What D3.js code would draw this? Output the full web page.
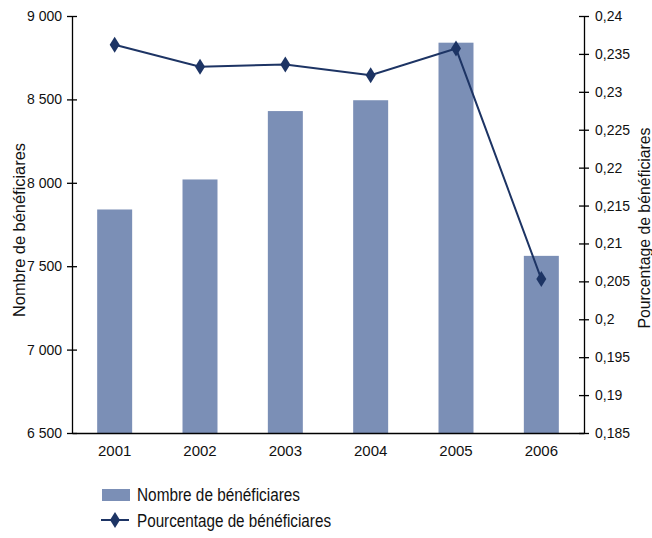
<!DOCTYPE html>
<html>
<head>
<meta charset="utf-8">
<script src="https://cdn.jsdelivr.net/npm/d3@7"></script>
<style>
  html, body { margin: 0; padding: 0; background: #fff; }
  svg { display: block; }
  text { font-family: "Liberation Sans", Arial, sans-serif; fill: #111; }
</style>
</head>
<body>
<svg id="chart" width="652" height="538"></svg>
<script>
// Beneficiaries per year (bars, left axis) and share of beneficiaries (line, right axis)
const years = ["2001", "2002", "2003", "2004", "2005", "2006"];
const beneficiaries = [7840, 8020, 8430, 8495, 8840, 7562];
const percentage = [0.2362, 0.2333, 0.2336, 0.2322, 0.2357, 0.2053];
const leftTicks = [6500, 7000, 7500, 8000, 8500, 9000];
const rightTicks = [0.185, 0.19, 0.195, 0.2, 0.205, 0.21, 0.215, 0.22, 0.225, 0.23, 0.235, 0.24];

const barColor = "#7b8fb6";
const lineColor = "#1d3464";

const svg = d3.select("#chart");
const plot = { left: 72, right: 584, top: 16, bottom: 433 };

const x = d3.scaleBand().domain(years).range([plot.left, plot.right]).paddingInner(0.59).paddingOuter(0.295);
const yL = d3.scaleLinear().domain([6500, 9000]).range([plot.bottom, plot.top]);
const yR = d3.scaleLinear().domain([0.185, 0.24]).range([plot.bottom, plot.top]);

const fmtLeft = v => d3.format(",")(v).replace(",", "\u00a0");
const fmtRight = v => String(+v.toFixed(3)).replace(".", ",");

// bars
svg.append("g").selectAll("rect").data(years).join("rect")
  .attr("x", d => x(d))
  .attr("width", x.bandwidth())
  .attr("y", (d, i) => yL(beneficiaries[i]))
  .attr("height", (d, i) => plot.bottom - yL(beneficiaries[i]))
  .attr("fill", barColor);

// left axis
const gL = svg.append("g").attr("transform", `translate(${plot.left},0)`)
  .call(d3.axisLeft(yL).tickValues(leftTicks).tickFormat(fmtLeft).tickSizeInner(5).tickSizeOuter(0).tickPadding(5));
gL.selectAll(".tick line").attr("x2", 5).attr("x1", -5);

// right axis
const gR = svg.append("g").attr("transform", `translate(${plot.right},0)`)
  .call(d3.axisRight(yR).tickValues(rightTicks).tickFormat(fmtRight).tickSizeInner(5).tickSizeOuter(0).tickPadding(6));
gR.selectAll(".tick line").attr("x1", -5).attr("x2", 5);

// bottom axis
const gB = svg.append("g").attr("transform", `translate(0,${plot.bottom})`)
  .call(d3.axisBottom(x).tickSize(0).tickPadding(12));

[gL, gR, gB].forEach(g => {
  g.selectAll("path.domain").attr("stroke", "#000").attr("stroke-width", 1.3);
  g.selectAll(".tick line").attr("stroke", "#000").attr("stroke-width", 1.3);
  g.selectAll("text").style("font-family", '"Liberation Sans", Arial, sans-serif')
    .style("font-size", "14px").attr("fill", "#111");
});
gB.selectAll("text").style("font-size", "15px");

// percentage line
const cx = d => x(d) + x.bandwidth() / 2;
const line = d3.line().x((d, i) => cx(years[i])).y(d => yR(d));
svg.append("path").datum(percentage)
  .attr("d", line).attr("fill", "none").attr("stroke", lineColor).attr("stroke-width", 2);

const diamond = "M0,-8L5,0L0,8L-5,0Z";
svg.append("g").selectAll("path").data(percentage).join("path")
  .attr("d", diamond)
  .attr("transform", (d, i) => `translate(${cx(years[i])},${yR(d)})`)
  .attr("fill", lineColor);

// axis titles
svg.append("text").attr("transform", "translate(25,230) rotate(-90)")
  .attr("text-anchor", "middle").style("font-size", "16.5px")
  .attr("textLength", 174).attr("lengthAdjust", "spacingAndGlyphs")
  .text("Nombre de bénéficiares");
svg.append("text").attr("transform", "translate(650,228) rotate(-90)")
  .attr("text-anchor", "middle").style("font-size", "16.5px")
  .attr("textLength", 201).attr("lengthAdjust", "spacingAndGlyphs")
  .text("Pourcentage de bénéficiares");

// legend
const lg = svg.append("g");
lg.append("rect").attr("x", 102).attr("y", 489).attr("width", 28).attr("height", 12).attr("fill", barColor);
lg.append("text").attr("x", 137).attr("y", 500.5).style("font-size", "17.5px")
  .attr("textLength", 163).attr("lengthAdjust", "spacingAndGlyphs")
  .text("Nombre de bénéficiares");
lg.append("line").attr("x1", 101).attr("x2", 129).attr("y1", 520).attr("y2", 520)
  .attr("stroke", lineColor).attr("stroke-width", 2);
lg.append("path").attr("d", diamond).attr("transform", "translate(115,520)").attr("fill", lineColor);
lg.append("text").attr("x", 137).attr("y", 527).style("font-size", "17.5px")
  .attr("textLength", 194).attr("lengthAdjust", "spacingAndGlyphs")
  .text("Pourcentage de bénéficiares");
</script>
</body>
</html>
